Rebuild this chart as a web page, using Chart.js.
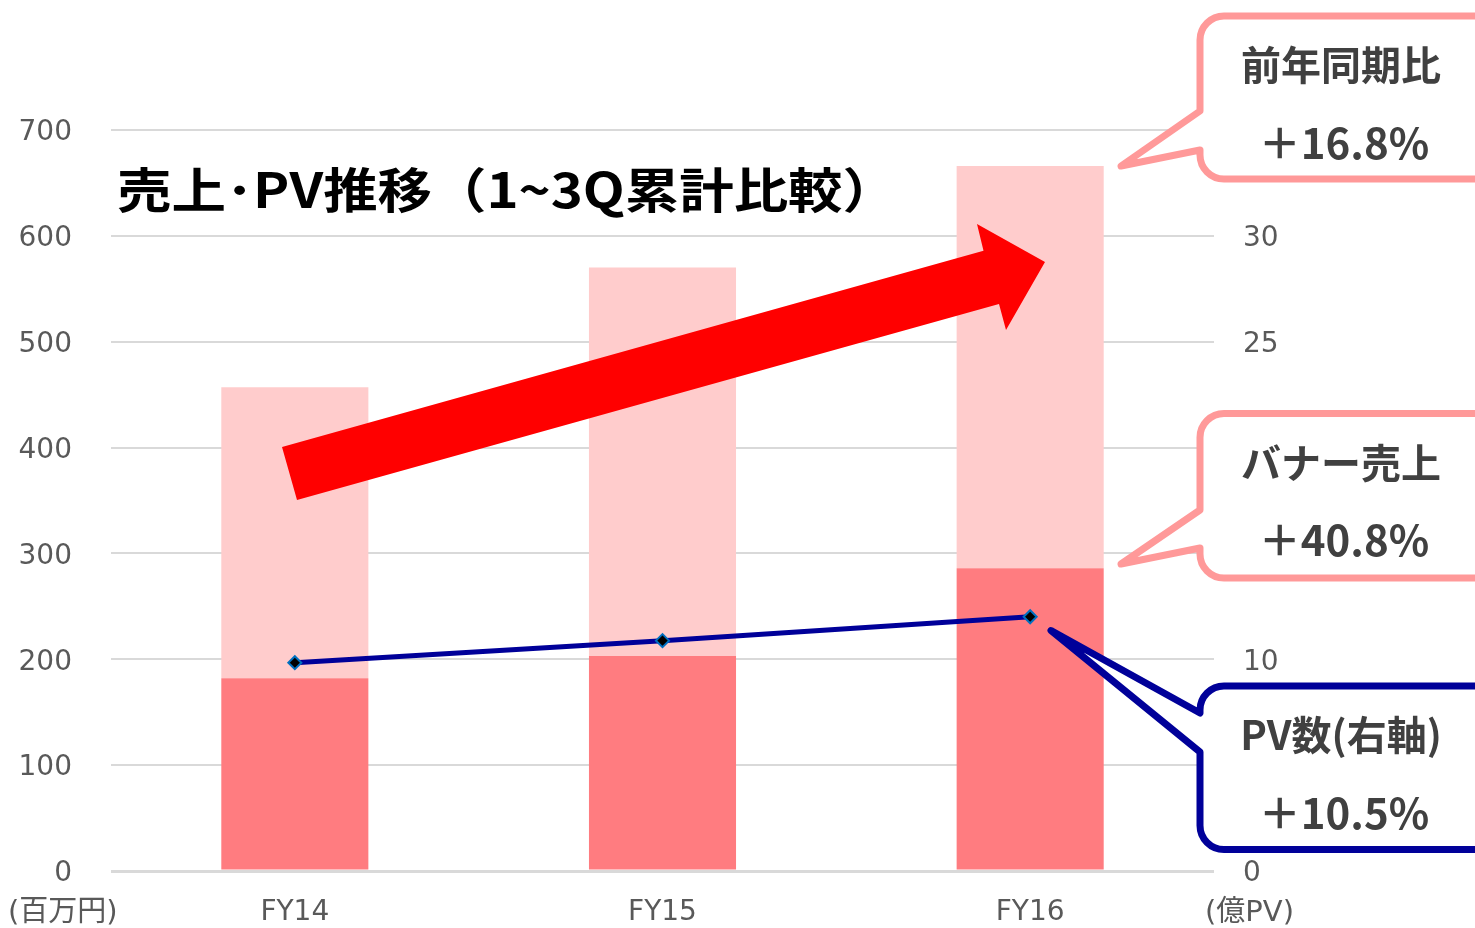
<!DOCTYPE html>
<html>
<head>
<meta charset="utf-8">
<script src="https://cdn.jsdelivr.net/npm/chart.js@4.4.0/dist/chart.umd.min.js"></script>
<style>
  html, body { margin: 0; padding: 0; background: #ffffff; }
  #wrap { width: 1475px; height: 928px; position: relative; }
</style>
</head>
<body>
<div id="wrap"><canvas id="c"></canvas></div>
<script>
// ---- data ----
const categories = ['FY14', 'FY15', 'FY16'];
const bannerSales = [182, 203, 286];   // 百万円 (dark segment)
const otherSales = [275, 367, 380];    // 百万円 (light segment)
const pageViews = [9.84, 10.88, 12.01]; // 億PV (right axis)
const leftTickValues = [0, 100, 200, 300, 400, 500, 600, 700];
const rightTickValues = [0, 5, 10, 15, 20, 25, 30, 35];
const titleText = '売上･PV推移（1~3Q累計比較）';
const leftUnit = '(百万円)';
const rightUnit = '(億PV)';
const callouts = [
  { line1: '前年同期比', line2: '＋16.8%', color: '#FF9999' },
  { line1: 'バナー売上', line2: '＋40.8%', color: '#FF9999' },
  { line1: 'PV数(右軸)', line2: '＋10.5%', color: '#000099' }
];

const tickFont = { family: '"DejaVu Sans", "Noto Sans CJK JP", sans-serif', size: 28 };
const cjk = '"Noto Sans CJK JP", sans-serif';

const overlay = {
  id: 'overlay',
  afterDraw(chart) {
    const ctx = chart.ctx;
    ctx.save();
    // unit labels
    ctx.fillStyle = '#595959';
    ctx.font = '29px "DejaVu Sans", "Noto Sans CJK JP", sans-serif';
    ctx.textAlign = 'left';
    ctx.textBaseline = 'middle';
    ctx.fillText(leftUnit, 8, 913);
    ctx.fillText(rightUnit, 1205, 913);

    // title (stretched horizontally to match the original's wide face)
    ctx.fillStyle = '#000000';
    ctx.font = 'bold 48px ' + cjk;
    ctx.textBaseline = 'middle';
    const tw = ctx.measureText(titleText).width;
    const sx = 780 / tw;
    ctx.save();
    ctx.translate(117, 190);
    ctx.scale(sx, 1);
    ctx.fillText(titleText, 0, 0);
    ctx.restore();

    // big red arrow
    ctx.fillStyle = '#FF0000';
    ctx.beginPath();
    ctx.moveTo(282, 447);
    ctx.lineTo(983.5, 250.7);
    ctx.lineTo(977, 224);
    ctx.lineTo(1045, 262);
    ctx.lineTo(1006, 330);
    ctx.lineTo(999, 304);
    ctx.lineTo(297, 500);
    ctx.closePath();
    ctx.fill();

    // callouts
    const boxes = [
      { T: 16, B: 179, up: 111, lo: 150, tip: [1121, 166] },
      { T: 413.5, B: 578, up: 510, lo: 548, tip: [1121, 564] },
      { T: 686, B: 849.5, up: 713, lo: 752, tip: [1051, 630.5] }
    ];
    boxes.forEach((b, i) => {
      const c = callouts[i];
      const L = 1200, R = 1520, r = 24;
      ctx.beginPath();
      ctx.moveTo(L, b.T + r);
      ctx.arcTo(L, b.T, L + r, b.T, r);
      ctx.lineTo(R, b.T);
      ctx.lineTo(R, b.B);
      ctx.lineTo(L + r, b.B);
      ctx.arcTo(L, b.B, L, b.B - r, r);
      ctx.lineTo(L, b.lo);
      ctx.lineTo(b.tip[0], b.tip[1]);
      ctx.lineTo(L, b.up);
      ctx.closePath();
      ctx.fillStyle = '#ffffff';
      ctx.fill();
      ctx.lineWidth = 7;
      ctx.lineJoin = 'round';
      ctx.lineCap = 'round';
      ctx.strokeStyle = c.color;
      ctx.stroke();
      ctx.fillStyle = '#404040';
      ctx.textAlign = 'center';
      ctx.textBaseline = 'middle';
      ctx.font = 'bold 40px ' + cjk;
      ctx.fillText(c.line1, 1341, b.T + 49);
      ctx.font = 'bold 42px ' + cjk;
      ctx.fillText(c.line2, 1344, b.T + 127);
    });
    ctx.restore();
  }
};

new Chart(document.getElementById('c'), {
  type: 'bar',
  data: {
    labels: categories,
    datasets: [
      {
        type: 'line',
        label: 'PV数',
        data: pageViews,
        yAxisID: 'y1',
        borderColor: '#000099',
        borderWidth: 5,
        pointStyle: 'rectRot',
        pointRadius: 6.5,
        pointBackgroundColor: '#000000',
        pointBorderColor: '#0070C0',
        pointBorderWidth: 2,
        tension: 0,
        order: 0
      },
      {
        label: 'バナー売上',
        data: bannerSales,
        backgroundColor: '#FF7C80',
        yAxisID: 'y',
        stack: 's',
        barPercentage: 0.4,
        categoryPercentage: 1.0,
        order: 1
      },
      {
        label: 'その他売上',
        data: otherSales,
        backgroundColor: '#FFCCCC',
        yAxisID: 'y',
        stack: 's',
        barPercentage: 0.4,
        categoryPercentage: 1.0,
        order: 2
      }
    ]
  },
  options: {
    responsive: true,
    maintainAspectRatio: false,
    animation: false,
    devicePixelRatio: 1,
    layout: { padding: { top: 130, left: 0, right: 0, bottom: 0 } },
    plugins: { legend: { display: false }, tooltip: { enabled: false }, title: { display: false } },
    scales: {
      x: {
        stacked: true,
        grid: { display: false, drawTicks: false },
        border: { display: false },
        ticks: { color: '#595959', font: tickFont, padding: 25 },
        afterFit(s) { s.height = 57; }
      },
      y: {
        stacked: true,
        position: 'left',
        min: 0, max: 700,
        afterBuildTicks(s) { s.ticks = leftTickValues.map(v => ({ value: v })); },
        grid: {
          color: '#D9D9D9',
          lineWidth: (c) => (c.tick && c.tick.value === 0 ? 3 : 2),
          drawTicks: false
        },
        border: { display: false },
        ticks: { color: '#595959', font: tickFont, padding: 39, labelOffset: 3 },
        afterFit(s) { s.width = 111; }
      },
      y1: {
        position: 'right',
        min: 0, max: 35,
        afterBuildTicks(s) { s.ticks = rightTickValues.map(v => ({ value: v })); },
        grid: { display: false, drawTicks: false },
        border: { display: false },
        ticks: { color: '#595959', font: tickFont, padding: 29, labelOffset: 3 },
        afterFit(s) { s.width = 261; }
      }
    }
  },
  plugins: [overlay]
});
</script>
</body>
</html>
